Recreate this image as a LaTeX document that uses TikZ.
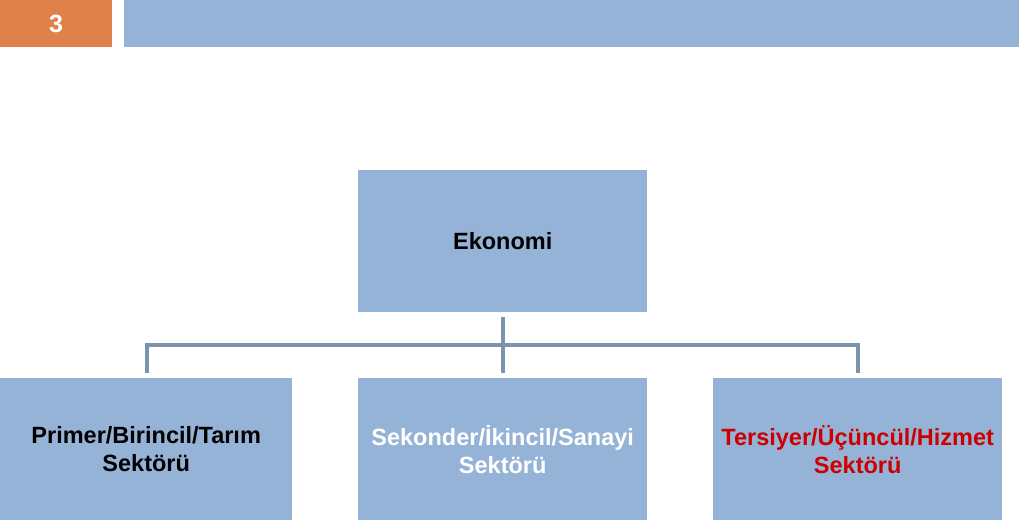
\documentclass[tikz,border=0pt]{standalone}
\usepackage{fontspec}
\setmainfont{Liberation Sans}
\definecolor{boxblue}{HTML}{95B3D7}
\definecolor{linegray}{HTML}{7A93AE}
\definecolor{orangehd}{HTML}{E0804A}
\definecolor{redtxt}{HTML}{CC0000}
\begin{document}
\begin{tikzpicture}[x=1pt,y=-1pt,
  box/.style={fill=boxblue,draw=none,inner sep=0pt,align=center,font=\fontsize{23.5}{28}\selectfont\bfseries},
  conn/.style={draw=linegray,line width=4pt}]
\useasboundingbox (0,0) rectangle (1019,520);
\fill[white] (0,0) rectangle (1019,520);
\node[fill=orangehd,minimum width=112pt,minimum height=47pt,inner sep=0pt,anchor=north west,text=white,font=\fontsize{25}{30}\selectfont\bfseries] (num) at (0,0) {3};
\node[fill=boxblue,minimum width=895pt,minimum height=47pt,inner sep=0pt,anchor=north west] (hdr) at (124,0) {};
\node[box,minimum width=289pt,minimum height=142pt,anchor=north west] (eko) at (358,170) {Ekonomi};
\node[box,minimum width=292pt,minimum height=142pt,anchor=north west] (pri) at (0,378) {Primer/Birincil/Tarım\\Sektörü};
\node[box,minimum width=289pt,minimum height=142pt,anchor=north west,text=white] (sek) at (358,378) {Sekonder/İkincil/Sanayi\\Sektörü};
\node[box,minimum width=289pt,minimum height=142pt,anchor=north west,text=redtxt] (ter) at (713,378) {Tersiyer/Üçüncül/Hizmet\\Sektörü};
\draw[conn] ([yshift=-5pt]eko.south) -- ([yshift=5pt]sek.north);
\draw[conn] ([yshift=5pt]pri.north -| 147,0) -- (147,345) -- (858,345) -- ([yshift=5pt]ter.north -| 858,0);
\end{tikzpicture}
\end{document}
